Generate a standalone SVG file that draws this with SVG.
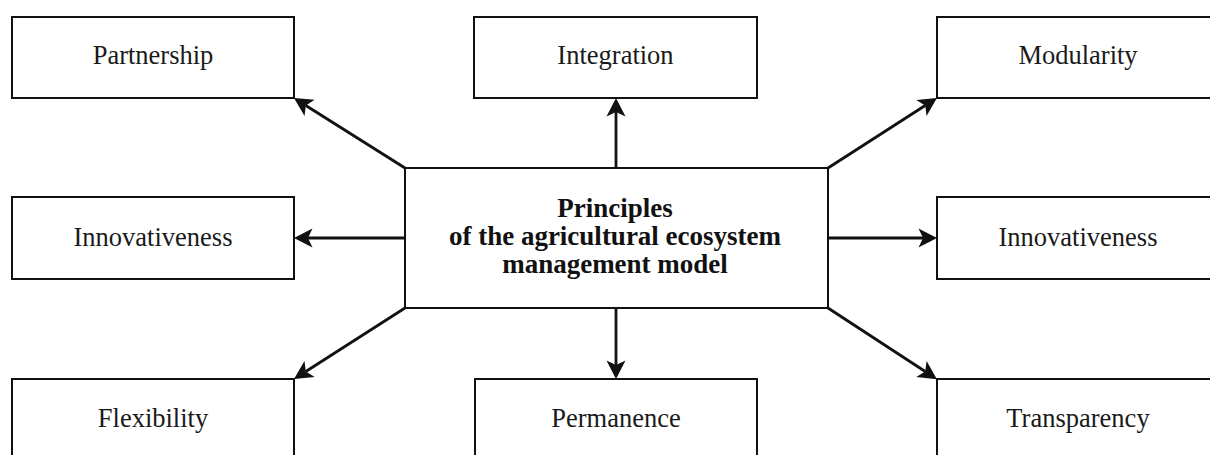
<svg xmlns="http://www.w3.org/2000/svg" width="1210" height="455" viewBox="0 0 1210 455">
  <style>
    .box { fill: #ffffff; stroke: #111111; stroke-width: 2; }
    .label { font-family: "Liberation Serif", "Times New Roman", serif; font-size: 26.5px; fill: #1a1a1a; text-anchor: middle; }
    .title { font-family: "Liberation Serif", "Times New Roman", serif; font-size: 27px; font-weight: bold; fill: #111111; text-anchor: middle; }
    .link { stroke: #111111; stroke-width: 2.8; fill: none; marker-end: url(#arrow); }
  </style>
  <defs>
    <!-- notched arrowhead; the line stops at the notch, the tip extends 14px further -->
    <marker id="arrow" markerUnits="userSpaceOnUse" viewBox="-6 -11 22 22" refX="0" refY="0" markerWidth="22" markerHeight="22" orient="auto" overflow="visible">
      <path d="M 14 0 L -4.5 -9.5 L 0 0 L -4.5 9.5 Z" fill="#111111"/>
    </marker>
  </defs>
  <rect width="1210" height="455" fill="#ffffff"/>

  <g id="connectors">
    <line class="link" x1="405" y1="168" x2="305.8" y2="105.5"/>
    <line class="link" x1="616" y1="168" x2="616" y2="112"/>
    <line class="link" x1="828" y1="168" x2="925.2" y2="105.5"/>
    <line class="link" x1="405" y1="238" x2="308" y2="238"/>
    <line class="link" x1="828" y1="238" x2="923" y2="238"/>
    <line class="link" x1="405" y1="308" x2="305.8" y2="371.5"/>
    <line class="link" x1="616" y1="308" x2="616" y2="365"/>
    <line class="link" x1="828" y1="308" x2="925.2" y2="371.5"/>
  </g>

  <g id="center">
    <rect class="box" x="405" y="168" width="423" height="140"/>
    <text class="title" x="615" y="217">Principles</text>
    <text class="title" x="615" y="245">of the agricultural ecosystem</text>
    <text class="title" x="615" y="273">management model</text>
  </g>

  <g id="partnership">
    <rect class="box" x="12" y="17" width="282" height="81"/>
    <text class="label" x="153" y="64">Partnership</text>
  </g>
  <g id="integration">
    <rect class="box" x="474" y="17" width="283" height="81"/>
    <text class="label" x="615.5" y="64">Integration</text>
  </g>
  <g id="modularity">
    <rect class="box" x="937" y="17" width="283" height="81"/>
    <text class="label" x="1078" y="64">Modularity</text>
  </g>

  <g id="innovativeness-left">
    <rect class="box" x="12" y="197" width="282" height="82"/>
    <text class="label" x="153" y="246">Innovativeness</text>
  </g>
  <g id="innovativeness-right">
    <rect class="box" x="937" y="197" width="283" height="82"/>
    <text class="label" x="1078" y="246">Innovativeness</text>
  </g>

  <g id="flexibility">
    <rect class="box" x="12" y="379" width="282" height="82"/>
    <text class="label" x="153" y="427">Flexibility</text>
  </g>
  <g id="permanence">
    <rect class="box" x="475" y="379" width="282" height="82"/>
    <text class="label" x="616" y="427">Permanence</text>
  </g>
  <g id="transparency">
    <rect class="box" x="937" y="379" width="283" height="82"/>
    <text class="label" x="1078" y="427">Transparency</text>
  </g>
</svg>
